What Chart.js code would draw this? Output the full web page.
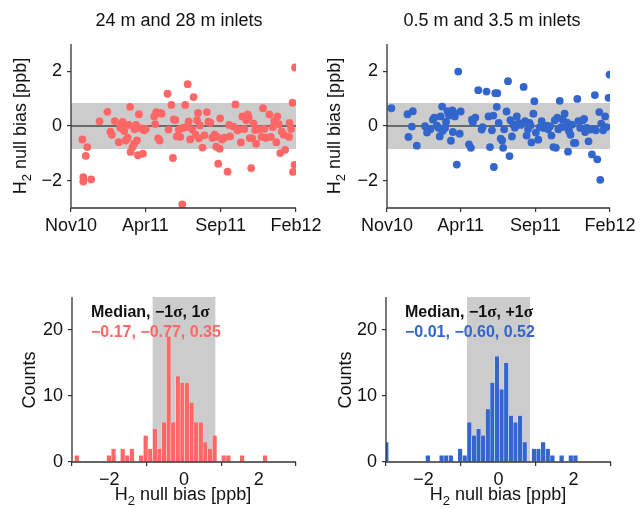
<!DOCTYPE html>
<html>
<head>
<meta charset="utf-8">
<title>H2 null bias</title>
<script src="https://cdn.jsdelivr.net/npm/chart.js@4.4.1/dist/chart.umd.min.js"></script>
<style>
  body { margin: 0; background: #fff; }
  #wrap { position: relative; width: 640px; height: 509px; overflow: hidden; }
  canvas { position: absolute; }
</style>
</head>
<body>
<div id="wrap">
  <canvas id="scatterA" width="330" height="255" style="left:0;top:0"></canvas>
  <canvas id="scatterB" width="320" height="255" style="left:320px;top:0"></canvas>
  <canvas id="histA" width="330" height="254" style="left:0;top:255px"></canvas>
  <canvas id="histB" width="320" height="254" style="left:320px;top:255px"></canvas>
</div>
<script>
// days since 1 Nov 2010
const dateTickDays = [0, 151, 304, 457];
const dateTickLabels = ['Nov10', 'Apr11', 'Sep11', 'Feb12'];
const biasTicks = [-2, 0, 2];
const countTicks = [0, 10, 20];

// 24 m / 28 m inlets
const redDays = [23,25,25,30,33,41,58,74,80,83, 89,97,100,103,105,108,111,115,117,120,
  121,125,128,129,132,134,136,138,143,146, 148,152,169,171,173,177,180,181,184,196,
  198,204,207,209,212,215,219,222,226,227, 232,234,237,239,242,246,249,253,256,258,
  260,262,267,271,276,279,283,287,292,295, 297,299,302,303,307,311,318,321,323,330,
  334,338,341,345,348,352,356,359,361,363, 366,368,371,374,376,379,383,387,390,393,
  396,403,406,410,413,417,419,422,425,428, 432,435,443,444,447,450,451,454,455];
const redBias = [-0.49,-1.87,-2.03,-1.09,-0.77,-1.95,0.17,0.52,-0.21,-0.32,
  0.18,-0.59,-0.06,0.09,0.15,-0.18,-0.53,-0.43,0.04,0.70,
  -0.95,-0.77,-0.65,-0.12,0.04,-0.53,-1.07,0.43,-0.09,-1.01,
  -0.16,-0.11,0.35,0.07,0.51,-0.45,-0.53,0.48,0.45,1.18,
  -0.13,0.77,-1.17,0.24,0.22,-0.38,-0.13,-0.40,-2.87,-0.07,
  0.77,-0.04,1.53,0.17,-0.49,-0.12,1.06,-0.32,0.21,0.48,
  -0.45,0.02,-0.79,-0.34,0.51,0.16,0.12,-0.43,-0.32,-0.76,
  -0.40,-1.38,-0.83,0.28,-0.49,-0.43,-1.67,0.04,-0.38,-0.02,
  0.79,-0.16,-0.12,-0.60,0.35,-0.11,0.21,0.42,0.31,-0.44,
  -1.54,-0.45,0.09,-0.15,-0.65,-0.12,-0.12,-0.40,0.65,-0.10,
  -0.43,0.42,-0.40,-0.04,0.18,-0.59,0.35,0.07,-0.99,-0.20,
  -0.32,-0.87,-0.40,0.11,-0.11,0.85,-1.68,-1.42,2.14];

// 0.5 m / 3.5 m inlets
const blueDays = [9,42,44,53,51,61,78,82,89,94, 97,102,106,108,110,113,114,119,121,124,
  127,129,131,134,135,136,139,143,146,149, 151,168,172,174,176,181,187,194,196,204,
  208,211,215,218,219,222,225,226,229,233, 236,238,240,245,248,251,253,256,259,262,
  266,270,274,280,283,286,289,292,294,296, 300,302,305,310,313,317,321,327,330,334,
  337,341,344,346,349,351,354,357,360,364, 366,369,371,373,376,379,383,386,390,392,
  396,401,404,406,409,413,417,420,422,426, 428,431,435,437,439,443,447,450,454,456];
const blueBias = [0.65,0.43,-0.40,0.54,-0.02,-0.72,-0.01,-0.24,-0.12,0.23,
  0.31,0.02,-0.07,-0.38,0.35,0.71,-0.18,-0.07,0.15,0.54,
  0.38,0.51,-0.54,0.57,-0.22,0.50,0.35,-1.41,1.99,-0.28,
  0.53,-0.67,-0.80,0.23,0.13,0.31,1.31,-0.13,-0.04,1.26,
  0.35,-0.77,-0.16,0.38,-1.50,1.20,0.70,1.20,0.11,-0.46,
  -0.53,-0.80,-0.12,0.53,1.64,-1.10,0.21,-0.38,0.05,-0.06,
  0.35,0.11,0.04,1.43,0.18,-0.35,-0.12,0.11,0.02,-0.60,
  0.45,0.91,-0.24,-0.50,-0.04,0.18,-0.07,0.01,-0.12,-0.01,
  -0.35,-0.77,0.21,-0.80,0.31,-0.12,0.92,-0.04,0.23,0.45,
  -0.04,0.12,-0.94,-0.18,-0.32,0.05,-0.62,-0.62,0.99,0.18,
  -0.07,0.21,0.26,-0.22,-0.07,-0.56,-0.13,-1.04,-0.11,1.13,
  -0.16,-1.22,0.51,-1.97,0.09,-0.16,0.35,-0.04,1.03,1.88];

// histograms: first bin edge, bin width, counts per bin
const binWidth = 0.123;
const redBinStart = -2.933;
const redCounts = [1,0,0,0,0,0,0,1,2,0, 2,1,2,0,1,4,2,5,2,6,
  19,6,13,12,12,9,6,6,3,2, 4,0,1,1,0,0,1,0,0,0, 0,1];
const blueBinStart = -3.053;
const blueCounts = [3,0,0,0,0,0,0,0,0,1, 0,0,1,1,1,0,2,1,6,4,
  5,4,8,12,16,11,15,7,6,7, 3,0,2,2,3,2,1,0,1,0, 1,1];

// median, -1 sigma, +1 sigma
const redStats = [-0.17, -0.77, 0.35];
const blueStats = [-0.01, -0.60, 0.52];
const band = [-0.84, 0.84];

const RED = '#ff6666';
const BLUE = '#3366cc';
const SANS = "'Liberation Sans', Arial, Helvetica, sans-serif";
const SERIF = "'Liberation Serif', 'DejaVu Serif', serif";
const INK = '#111';

Chart.defaults.font.family = SANS;
Chart.defaults.color = INK;

const minus = v => (v < 0 ? '\u2212' : '') + Math.abs(v);
const fmtStat = v => (v < 0 ? '\u2212' : '') + Math.abs(v).toFixed(2);

function drawH2Title(ctx, x, y, rotated) {
  const main = '18px ' + SANS, sub = '13px ' + SANS;
  const rest = ' null bias [ppb]';
  ctx.font = main;
  const wH = ctx.measureText('H').width, wRest = ctx.measureText(rest).width;
  ctx.font = sub;
  const w2 = ctx.measureText('2').width;
  ctx.save();
  ctx.translate(x, y);
  if (rotated) ctx.rotate(-Math.PI / 2);
  ctx.fillStyle = INK;
  ctx.textAlign = 'left';
  ctx.textBaseline = 'alphabetic';
  let cx = -(wH + w2 + wRest) / 2;
  ctx.font = main; ctx.fillText('H', cx, 0); cx += wH;
  ctx.font = sub; ctx.fillText('2', cx, 5); cx += w2;
  ctx.font = main; ctx.fillText(rest, cx, 0);
  ctx.restore();
}

function drawRuns(ctx, x, y, runs) {
  ctx.textAlign = 'left';
  ctx.textBaseline = 'alphabetic';
  for (const [text, font, color] of runs) {
    ctx.font = font;
    ctx.fillStyle = color;
    ctx.fillText(text, x, y);
    x += ctx.measureText(text).width;
  }
}

// band, zero line, spines and all free text of a panel
const decor = {
  id: 'decor',
  beforeDraw(chart, args, o) {
    const { ctx, chartArea: a, scales } = chart;
    ctx.save();
    ctx.fillStyle = '#cccccc';
    if (o.bandAxis === 'y') {
      const y1 = scales.y.getPixelForValue(band[1]), y0 = scales.y.getPixelForValue(band[0]);
      ctx.fillRect(a.left, y1, a.right - a.left, y0 - y1);
      const yz = scales.y.getPixelForValue(0);
      ctx.strokeStyle = '#4a4a4a';
      ctx.lineWidth = 1.5;
      ctx.beginPath();
      ctx.moveTo(a.left, yz);
      ctx.lineTo(a.right, yz);
      ctx.stroke();
    } else {
      const x0 = scales.x.getPixelForValue(band[0]), x1 = scales.x.getPixelForValue(band[1]);
      ctx.fillRect(x0, a.top, x1 - x0, a.bottom - a.top);
    }
    ctx.restore();
  },
  afterDatasetsDraw(chart, args, o) {
    const { ctx, chartArea: a } = chart;
    ctx.save();
    ctx.strokeStyle = '#333';
    ctx.lineWidth = 1.3;
    ctx.beginPath();
    ctx.moveTo(a.left, a.top);
    ctx.lineTo(a.left, a.bottom);
    ctx.lineTo(a.right, a.bottom);
    ctx.stroke();

    if (o.title) {
      ctx.font = '18px ' + SANS;
      ctx.fillStyle = INK;
      ctx.textAlign = 'center';
      ctx.textBaseline = 'alphabetic';
      ctx.fillText(o.title, o.titleX, 26);
    }
    if (o.yH2) drawH2Title(ctx, o.yTitleX, o.yTitleY, true);
    if (o.xH2) drawH2Title(ctx, o.xTitleX, o.xTitleY, false);
    if (o.yCounts) {
      ctx.translate(o.yTitleX, o.yTitleY);
      ctx.rotate(-Math.PI / 2);
      ctx.font = '18px ' + SANS;
      ctx.fillStyle = INK;
      ctx.textAlign = 'center';
      ctx.textBaseline = 'alphabetic';
      ctx.fillText('Counts', 0, 0);
      ctx.setTransform(1, 0, 0, 1, 0, 0);
    }
    if (o.stats) {
      const bold = 'bold 16px ' + SANS, sig = 'bold 17px ' + SERIF;
      drawRuns(ctx, o.statsX, 62, [
        ['Median, \u22121', bold, INK], ['\u03c3', sig, INK],
        [o.plusSign ? ', +1' : ', 1', bold, INK], ['\u03c3', sig, INK]
      ]);
      drawRuns(ctx, o.statsX, 82, [[o.stats.map(fmtStat).join(', '), bold, o.statsColor]]);
    }
    ctx.restore();
  }
};

function axis(min, max, tickVals, label, size, isX) {
  return {
    type: 'linear', min, max, offset: false,
    grid: { display: true, drawOnChartArea: false, drawTicks: true, tickLength: 4, color: '#333', lineWidth: 1.2 },
    border: { display: false },
    ticks: { autoSkip: false, maxRotation: 0, padding: isX ? 3 : 5, color: INK, font: { size: 18 },
      callback: (v, i) => label(v, i) },
    afterBuildTicks: s => { s.ticks = tickVals.map(v => ({ value: v })); },
    afterFit: s => { if (isX) s.height = size; else s.width = size; }
  };
}

const common = {
  responsive: false, animation: false, events: [],
  plugins: { legend: { display: false }, tooltip: { enabled: false } }
};

function scatterPanel(id, days, bias, color, pad, yWidth, o) {
  new Chart(document.getElementById(id), {
    type: 'scatter',
    data: { datasets: [{ data: days.map((d, i) => ({ x: d, y: bias[i] })),
      backgroundColor: color, borderWidth: 0, pointRadius: 3.9 }] },
    options: { ...common,
      layout: { padding: pad },
      scales: {
        x: axis(0, 457, dateTickDays, (v, i) => dateTickLabels[i], 47, true),
        y: axis(-3, 3, biasTicks, minus, yWidth, false)
      },
      plugins: { ...common.plugins, decor: { bandAxis: 'y', yH2: true, ...o } }
    },
    plugins: [decor]
  });
}

function histPanel(id, start, counts, color, pad, yWidth, o) {
  const bins = counts.map((c, i) => ({ x: start + (i + 0.5) * binWidth, y: c }));
  new Chart(document.getElementById(id), {
    type: 'bar',
    data: { datasets: [{ data: bins, backgroundColor: color, borderColor: '#fff',
      borderWidth: { left: 0.5, right: 0.5, top: 0, bottom: 0 },
      barPercentage: 1, categoryPercentage: 1 }] },
    options: { ...common,
      layout: { padding: pad },
      scales: {
        x: axis(-3, 3, biasTicks, minus, 47, true),
        y: axis(0, 25, countTicks, v => String(v), yWidth, false)
      },
      plugins: { ...common.plugins, decor: { bandAxis: 'x', xH2: true, yCounts: true, ...o } }
    },
    plugins: [decor]
  });
}

scatterPanel('scatterA', redDays, redBias, RED, { top: 44, right: 34, left: 0, bottom: 0 }, 71,
  { title: '24 m and 28 m inlets', titleX: 179, yTitleX: 26, yTitleY: 126 });
scatterPanel('scatterB', blueDays, blueBias, BLUE, { top: 44, right: 30, left: 0, bottom: 0 }, 67,
  { title: '0.5 m and 3.5 m inlets', titleX: 172, yTitleX: 20, yTitleY: 126 });
histPanel('histA', redBinStart, redCounts, RED, { top: 42, right: 34, left: 0, bottom: 0 }, 72,
  { xTitleX: 183, xTitleY: 245, yTitleX: 35, yTitleY: 125, stats: redStats, statsColor: RED, statsX: 91 });
histPanel('histB', blueBinStart, blueCounts, BLUE, { top: 42, right: 29, left: 0, bottom: 0 }, 66,
  { xTitleX: 178, xTitleY: 245, yTitleX: 31, yTitleY: 125, stats: blueStats, statsColor: BLUE,
    statsX: 85, plusSign: true });
</script>
</body>
</html>
